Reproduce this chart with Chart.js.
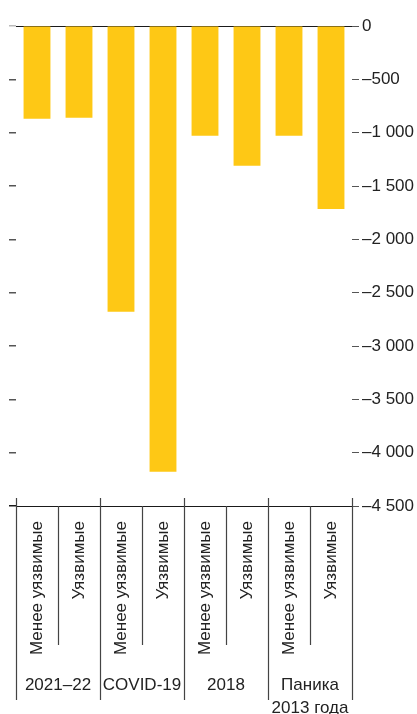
<!DOCTYPE html>
<html>
<head>
<meta charset="utf-8">
<script src="https://cdn.jsdelivr.net/npm/chart.js"></script>
<style>
  html, body { margin: 0; padding: 0; background: #fff; }
  #wrap { width: 417px; height: 714px; position: relative; }
</style>
</head>
<body>
<div id="wrap"><canvas id="chart"></canvas></div>
<script>
const subLabels = [
  'Менее уязвимые', 'Уязвимые',
  'Менее уязвимые', 'Уязвимые',
  'Менее уязвимые', 'Уязвимые',
  'Менее уязвимые', 'Уязвимые'
];
const groupLabels = ['2021–22', 'COVID-19', '2018', ['Паника', '2013 года']];
const values = [-870, -860, -2680, -4180, -1030, -1310, -1030, -1715];

const yMin = -4500;
const yMax = 0;
const yStep = 500;

const barColor = '#FEC815';
const inkColor = '#222';
const font = { family: '"Liberation Sans", Arial, sans-serif', size: 17 };

function fmt(v) {
  if (v === 0) return '0';
  const s = String(Math.abs(v)).replace(/\B(?=(\d{3})+(?!\d))/g, ' ');
  return (v < 0 ? '–' : '') + s;
}

// vertical separators under the bars: long ones between groups, short ones inside
const separators = {
  id: 'separators',
  afterDraw(chart) {
    const xs = chart.scales.x;
    const xg = chart.scales.xg;
    const area = chart.chartArea;
    const n = subLabels.length;
    const ctx = chart.ctx;
    ctx.save();
    ctx.strokeStyle = '#444';
    ctx.lineWidth = 1.2;
    for (let i = 0; i <= n; i++) {
      let px;
      if (i === 0) px = xs.left;
      else if (i === n) px = xs.right;
      else px = (xs.getPixelForValue(i - 1) + xs.getPixelForValue(i)) / 2;
      px = Math.round(px) + 0.5;
      ctx.beginPath();
      if (i % 2 === 0) {
        ctx.moveTo(px, area.bottom - 8);
        ctx.lineTo(px, xg.bottom - 14);
      } else {
        ctx.moveTo(px, area.bottom);
        ctx.lineTo(px, xs.bottom - 19);
      }
      ctx.stroke();
    }
    ctx.restore();
  }
};

new Chart(document.getElementById('chart'), {
  type: 'bar',
  data: {
    labels: subLabels,
    datasets: [{
      data: values,
      backgroundColor: barColor,
      borderWidth: 0,
      barPercentage: 0.64,
      categoryPercentage: 1,
      xAxisID: 'x',
      yAxisID: 'y'
    }]
  },
  options: {
    responsive: true,
    maintainAspectRatio: false,
    animation: false,
    layout: { padding: { top: 26, left: 9, right: 3, bottom: 0 } },
    plugins: {
      legend: { display: false },
      tooltip: { enabled: false }
    },
    scales: {
      x: {
        position: 'bottom',
        grid: { display: false },
        border: { display: false },
        ticks: {
          minRotation: 90,
          maxRotation: 90,
          autoSkip: false,
          padding: 7,
          color: inkColor,
          font: font
        },
        afterFit(s) { s.height = 158; }
      },
      xg: {
        type: 'category',
        position: 'bottom',
        labels: groupLabels,
        offset: true,
        grid: { display: false },
        border: { display: false },
        ticks: {
          maxRotation: 0,
          autoSkip: false,
          padding: 2,
          color: inkColor,
          font: { ...font, lineHeight: 1.35 }
        },
        afterFit(s) { s.height = 50; }
      },
      y: {
        position: 'right',
        min: yMin,
        max: yMax,
        z: 1,
        border: { display: false },
        grid: {
          drawOnChartArea: true,
          drawTicks: true,
          tickLength: 7,
          lineWidth: 1,
          color: c => (c.tick && (c.tick.value === 0 || c.tick.value === yMin)) ? '#1a1a1a' : 'rgba(0,0,0,0)',
          tickColor: '#555'
        },
        ticks: {
          stepSize: yStep,
          padding: 3,
          color: inkColor,
          font: font,
          callback: v => fmt(v)
        },
        afterFit(s) { s.width = 62; }
      },
      yl: {
        position: 'left',
        min: yMin,
        max: yMax,
        border: { display: false },
        grid: {
          drawOnChartArea: false,
          drawTicks: true,
          tickLength: 7,
          lineWidth: 1.5,
          tickColor: c => c.tick && c.tick.value === 0 ? '#bbb' : (c.tick && c.tick.value === yMin ? '#1a1a1a' : '#555')
        },
        ticks: { display: false, stepSize: yStep }
      }
    }
  },
  plugins: [separators]
});
</script>
</body>
</html>
